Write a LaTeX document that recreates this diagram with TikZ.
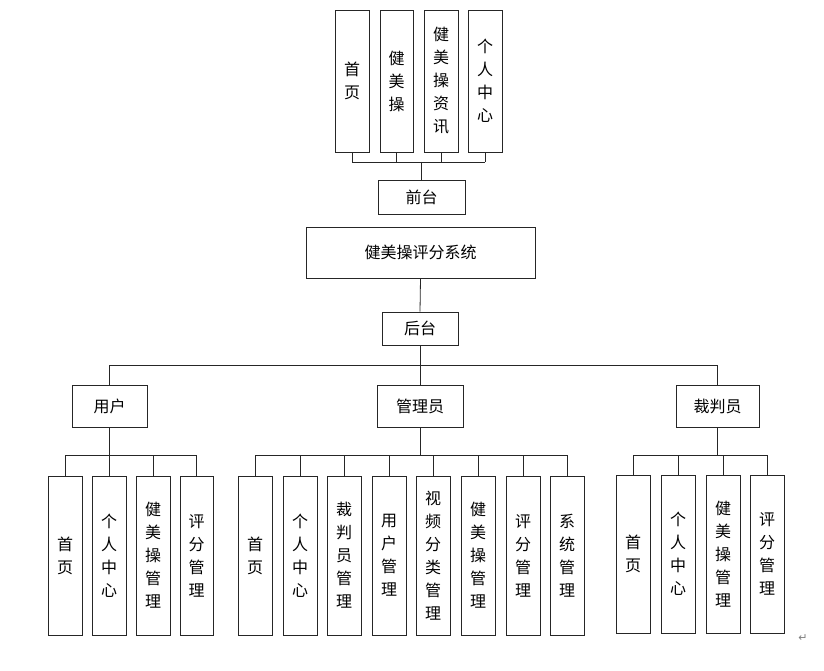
\documentclass[tikz,border=0pt]{standalone}
\usepackage{fontspec}
\newfontfamily\cjk{Noto Sans CJK SC}
\newfontfamily\dv{DejaVu Sans}
\begin{document}
\begin{tikzpicture}[x=1pt,y=-1pt,
  bx/.style={draw=black!85,line width=0.8pt,inner sep=0pt,font=\cjk\fontsize{16}{23}\selectfont,align=center},
  ln/.style={draw=black!85,line width=0.8pt}]
\useasboundingbox (0,0) rectangle (824,671);
\newcommand\vb[6]{\node[bx,minimum width=#3-#2,minimum height=#5-#4] (#1) at ({(#2+#3)/2},{(#4+#5)/2}) {#6};}
% top
\vb{t1}{335}{369}{10}{152}{首\\页}
\vb{t2}{380}{413}{10}{152}{健\\美\\操}
\vb{t3}{424}{458}{10}{152}{健\\美\\操\\资\\讯}
\vb{t4}{468}{502}{10}{152}{个\\人\\中\\心}
\vb{qt}{378}{465}{180}{214}{前台}
\vb{sys}{306}{535}{227}{278}{健美操评分系统}
\vb{ht}{382}{458}{312}{345}{后台}
\coordinate (tb) at (421.5,162);
\foreach \n in {t1,t2,t3,t4}{\draw[ln] (\n.south) -- (\n.south |- tb);}
\draw[ln] (t1.south |- tb) -- (t4.south |- tb);
\draw[ln] (qt.north |- tb) -- (qt.north);
\draw[ln] (sys.south) -- (ht.north);
% level 2
\vb{yh}{72}{147}{385}{427}{用户}
\vb{gl}{377}{463}{385}{427}{管理员}
\vb{cp}{676}{759}{385}{427}{裁判员}
\coordinate (mb) at (420,365);
\draw[ln] (ht.south) -- (ht.south |- mb);
\draw[ln] (yh.north |- mb) -- (cp.north |- mb);
\foreach \n in {yh,gl,cp}{\draw[ln] (\n.north |- mb) -- (\n.north);}
% users
\vb{u1}{48}{82}{476}{635}{首\\页}
\vb{u2}{92}{126}{476}{635}{个\\人\\中\\心}
\vb{u3}{136}{170}{476}{635}{健\\美\\操\\管\\理}
\vb{u4}{180}{213}{476}{635}{评\\分\\管\\理}
% admin
\vb{a1}{238}{272}{476}{635}{首\\页}
\vb{a2}{283}{317}{476}{635}{个\\人\\中\\心}
\vb{a3}{327}{361}{476}{635}{裁\\判\\员\\管\\理}
\vb{a4}{372}{406}{476}{635}{用\\户\\管\\理}
\vb{a5}{416}{450}{476}{635}{视\\频\\分\\类\\管\\理}
\vb{a6}{461}{495}{476}{635}{健\\美\\操\\管\\理}
\vb{a7}{506}{540}{476}{635}{评\\分\\管\\理}
\vb{a8}{550}{584}{476}{635}{系\\统\\管\\理}
% referee
\vb{r1}{616}{650}{475}{633}{首\\页}
\vb{r2}{661}{695}{475}{633}{个\\人\\中\\心}
\vb{r3}{706}{740}{475}{633}{健\\美\\操\\管\\理}
\vb{r4}{750}{784}{475}{633}{评\\分\\管\\理}
\coordinate (lb) at (0,455);
\draw[ln] (yh.south) -- (yh.south |- lb);
\draw[ln] (u1.north |- lb) -- (u4.north |- lb);
\foreach \n in {u1,u2,u3,u4}{\draw[ln] (\n.north |- lb) -- (\n.north);}
\draw[ln] (gl.south) -- (gl.south |- lb);
\draw[ln] (a1.north |- lb) -- (a8.north |- lb);
\foreach \n in {a1,a2,a3,a4,a5,a6,a7,a8}{\draw[ln] (\n.north |- lb) -- (\n.north);}
\draw[ln] (cp.south) -- (cp.south |- lb);
\draw[ln] (r1.north |- lb) -- (r4.north |- lb);
\foreach \n in {r1,r2,r3,r4}{\draw[ln] (\n.north |- lb) -- (\n.north);}
\node[text=black!50,font=\dv\fontsize{11}{12}\selectfont] (ret) at (803,638) {↵};
\end{tikzpicture}
\end{document}
